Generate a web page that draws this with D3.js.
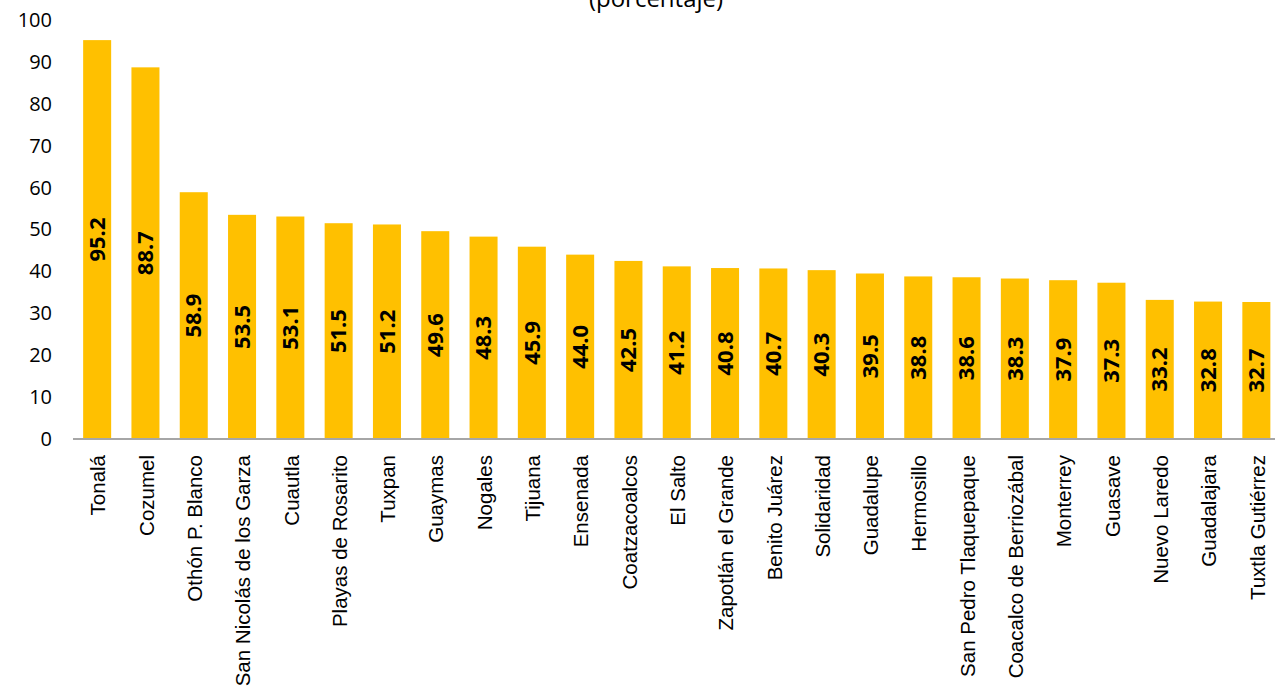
<!DOCTYPE html>
<html><head><meta charset="utf-8">
<script src="https://cdn.jsdelivr.net/npm/d3@7"></script>
<style>body{margin:0;background:#fff}svg{display:block;font-family:"Open Sans",sans-serif}</style>
</head><body>
<svg id="c" width="1275" height="699"></svg>
<script>
const categories = ["Tonalá","Cozumel","Othón P. Blanco","San Nicolás de los Garza","Cuautla","Playas de Rosarito","Tuxpan","Guaymas","Nogales","Tijuana","Ensenada","Coatzacoalcos","El Salto","Zapotlán el Grande","Benito Juárez","Solidaridad","Guadalupe","Hermosillo","San Pedro Tlaquepaque","Coacalco de Berriozábal","Monterrey","Guasave","Nuevo Laredo","Guadalajara","Tuxtla Gutiérrez"];
const values = [95.2,88.7,58.9,53.5,53.1,51.5,51.2,49.6,48.3,45.9,44.0,42.5,41.2,40.8,40.7,40.3,39.5,38.8,38.6,38.3,37.9,37.3,33.2,32.8,32.7];
const yTicks = [0,10,20,30,40,50,60,70,80,90,100];
const title = "(porcentaje)";

const svg = d3.select("#c");
const x = d3.scaleBand().domain(categories).range([73, 1280.5]).paddingInner(0.42).paddingOuter(0.21);
const y = d3.scaleLinear().domain([0,100]).range([439, 20]);

svg.append("text").attr("x", 656).attr("y", 7).attr("text-anchor","middle")
  .attr("font-size", 24).attr("fill","#000").text(title);

const ya = svg.append("g").attr("transform","translate(52,0)")
  .call(d3.axisLeft(y).tickValues(yTicks).tickSize(0).tickPadding(0));
ya.select(".domain").remove();
ya.selectAll("text").attr("font-size", 20).attr("fill","#000").attr("font-family","'Open Sans',sans-serif");

svg.selectAll("rect.bar").data(values).join("rect").attr("class","bar")
  .attr("x",(d,i)=>x(categories[i])).attr("width",x.bandwidth())
  .attr("y",d=>y(d)).attr("height",d=>y(0)-y(d)).attr("fill","#FFC000");

const xa = svg.append("g").attr("transform",`translate(0,${y(0)})`)
  .call(d3.axisBottom(x).tickSize(0).tickPadding(0));
xa.select(".domain").attr("stroke","#a6a6a6").attr("stroke-width",2).attr("d","M73,0H1275");
xa.selectAll("text").attr("font-size",20.5).attr("fill","#000").attr("font-family","'Liberation Sans',Arial,sans-serif")
  .attr("text-anchor","end").attr("dy","0.35em").attr("transform","translate(1,16) rotate(-90)").attr("y",0).attr("x",0);

svg.selectAll("text.val").data(values).join("text").attr("class","val")
  .attr("transform",(d,i)=>`translate(${x(categories[i])+x.bandwidth()/2},${(y(d)+y(0))/2}) rotate(-90)`)
  .attr("text-anchor","middle").attr("dy","0.35em").attr("font-size",22).attr("font-weight","bold")
  .attr("fill","#000").text(d=>d.toFixed(1));
</script>
</body></html>
